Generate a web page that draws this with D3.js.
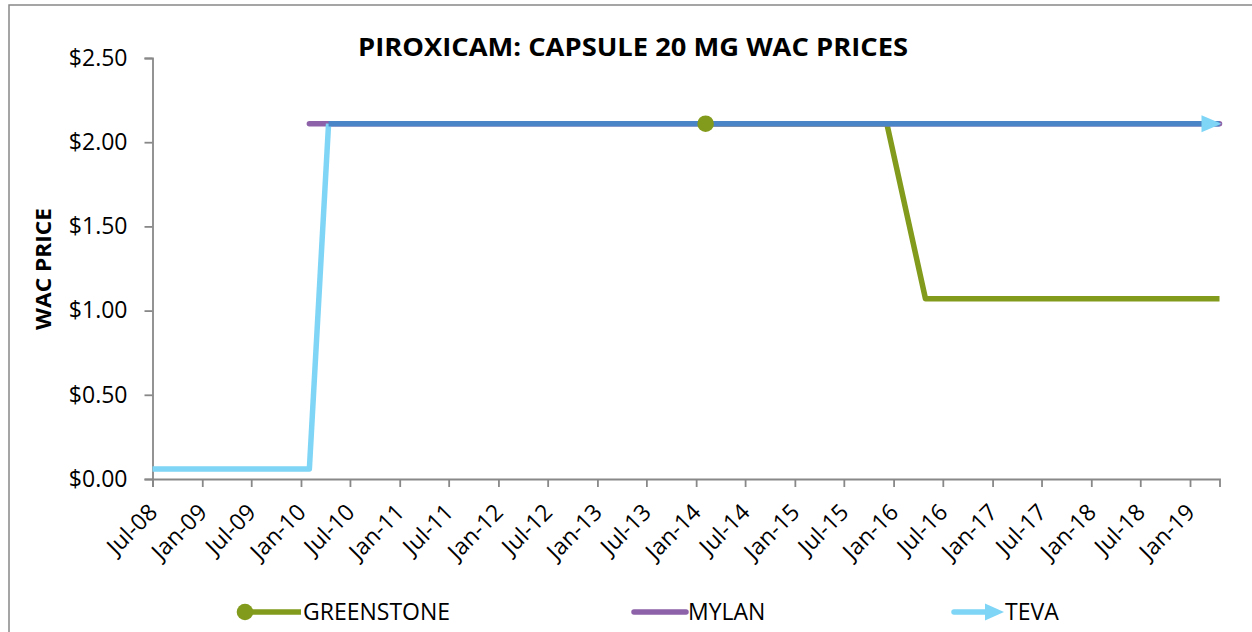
<!DOCTYPE html>
<html>
<head>
<meta charset="utf-8">
<script src="https://cdn.jsdelivr.net/npm/d3@7"></script>
<style>
  html, body { margin: 0; padding: 0; background: #fff; }
  svg { display: block; }
  text { font-family: "Open Sans", "Noto Sans", sans-serif; fill: #000; }
</style>
</head>
<body>
<svg id="chart" width="1252" height="632"></svg>
<script>
// ---------- DATA ----------
const title = "PIROXICAM: CAPSULE 20 MG WAC PRICES";
const yTitle = "WAC PRICE";
const seriesNames = ["GREENSTONE", "MYLAN", "TEVA"];

const greenstoneDates = ["2014-02-05", "2015-12-07", "2016-04-28", "2019-04-20"];
const greenstoneValues = [2.11, 2.11, 1.07, 1.07];

const mylanDates = ["2010-02-01", "2019-04-20"];
const mylanValues = [2.11, 2.11];

const tevaDates = ["2008-07-01", "2010-02-01", "2010-04-13", "2019-04-20"];
const tevaValues = [0.06, 0.06, 2.11, 2.11];

const yTicks = [0, 0.5, 1.0, 1.5, 2.0, 2.5];
const xTickDates = ["2008-07-01","2009-01-01","2009-07-01","2010-01-01","2010-07-01","2011-01-01",
  "2011-07-01","2012-01-01","2012-07-01","2013-01-01","2013-07-01","2014-01-01","2014-07-01",
  "2015-01-01","2015-07-01","2016-01-01","2016-07-01","2017-01-01","2017-07-01","2018-01-01",
  "2018-07-01","2019-01-01"];
const xDomain = ["2008-07-01", "2019-04-20"];
const yDomain = [0, 2.5];

// ---------- STYLE ----------
const C_GREEN = "#829B1C", C_PURPLE = "#8D62A8", C_LIGHT = "#7FD5F6", C_STEEL = "#4A86C7";
const AXIS = "#888888";
const LW = 5.5;

const parse = d3.utcParse("%Y-%m-%d");
const svg = d3.select("#chart");

// outer border
svg.append("rect").attr("x", 9).attr("y", 5).attr("width", 1300).attr("height", 700)
  .attr("fill", "none").attr("stroke", AXIS).attr("stroke-width", 1.5);

const x = d3.scaleUtc().domain(xDomain.map(parse)).range([152.5, 1219.5]);
const y = d3.scaleLinear().domain(yDomain).range([479, 58]);

// title
svg.append("text").attr("x", 633).attr("y", 56).attr("text-anchor", "middle")
  .style("font-size", "25px").style("font-weight", "bold")
  .attr("textLength", 550).attr("lengthAdjust", "spacingAndGlyphs").text(title);

// y title
svg.append("text").attr("transform", "translate(43,269) rotate(-90)")
  .attr("text-anchor", "middle").attr("dy", "0.35em")
  .style("font-size", "22px").style("font-weight", "bold")
  .attr("textLength", 122).attr("lengthAdjust", "spacingAndGlyphs").text(yTitle);

// y axis
const yAxis = svg.append("g").attr("transform", "translate(152.5,0)")
  .call(d3.axisLeft(y).tickValues(yTicks).tickSize(8).tickPadding(17)
    .tickFormat(d => "$" + d3.format(".2f")(d)));
yAxis.select(".domain").attr("stroke", AXIS).attr("stroke-width", 1.8);
yAxis.selectAll(".tick line").attr("stroke", AXIS).attr("stroke-width", 1.8);
yAxis.selectAll(".tick text").style("font-size", "23px").style("font-family", "'Open Sans'").attr("fill", "#000");

// x axis
const xAxis = svg.append("g").attr("transform", "translate(0,479)")
  .call(d3.axisBottom(x).tickValues(xTickDates.map(parse)).tickSize(8)
    .tickFormat(d3.utcFormat("%b-%y")));
xAxis.select(".domain").attr("stroke", AXIS).attr("stroke-width", 1.8);
xAxis.selectAll(".tick line").attr("stroke", AXIS).attr("stroke-width", 1.8);
xAxis.selectAll(".tick text")
  .style("font-size", "23px").style("font-family", "'Open Sans'").attr("fill", "#000")
  .attr("text-anchor", "end").attr("y", 0).attr("dy", "0.35em")
  .attr("transform", "translate(0,29) rotate(-45)");

const line = d3.line().x(d => x(d[0])).y(d => y(d[1]));
const pts = (dates, vals) => dates.map((d, i) => [parse(d), vals[i]]);

const gPts = pts(greenstoneDates, greenstoneValues);
const mPts = pts(mylanDates, mylanValues);
const tPts = pts(tevaDates, tevaValues);

// greenstone line
svg.append("path").attr("d", line(gPts)).attr("fill", "none").attr("stroke", C_GREEN)
  .attr("stroke-width", LW).attr("stroke-linejoin", "round");

// mylan line
svg.append("path").attr("d", line(mPts)).attr("fill", "none").attr("stroke", C_PURPLE)
  .attr("stroke-width", LW).attr("stroke-linecap", "round");

// teva line: segments (early segments light blue, later steel blue)
const tevaSegColor = i => i < 2 ? C_LIGHT : C_STEEL;
// light part as one path for nice joins
svg.append("path").attr("d", line(tPts.slice(0, 3))).attr("fill", "none").attr("stroke", C_LIGHT)
  .attr("stroke-width", LW).attr("stroke-linejoin", "round");
for (let i = 2; i < tPts.length - 1; i++) {
  svg.append("path").attr("d", line([tPts[i], tPts[i + 1]])).attr("fill", "none")
    .attr("stroke", tevaSegColor(i)).attr("stroke-width", LW);
}
// arrow head at Teva end
const tEnd = tPts[tPts.length - 1];
const ax = x(tEnd[0]) + 2, ay = y(tEnd[1]);
svg.append("path").attr("d", `M${ax},${ay} L${ax - 20},${ay - 8.5} L${ax - 20},${ay + 8.5} Z`)
  .attr("fill", C_LIGHT);

// greenstone marker at first point
svg.append("circle").attr("cx", x(gPts[0][0])).attr("cy", y(gPts[0][1])).attr("r", 8.3)
  .attr("fill", C_GREEN);

// legend
const lg = svg.append("g");
const ly = 612;
// greenstone
lg.append("line").attr("x1", 245).attr("x2", 301).attr("y1", ly).attr("y2", ly)
  .attr("stroke", C_GREEN).attr("stroke-width", LW);
lg.append("circle").attr("cx", 245).attr("cy", ly).attr("r", 8.3).attr("fill", C_GREEN);
// mylan
lg.append("line").attr("x1", 634).attr("x2", 686).attr("y1", ly).attr("y2", ly)
  .attr("stroke", C_PURPLE).attr("stroke-width", LW).attr("stroke-linecap", "round");
// teva
lg.append("line").attr("x1", 954).attr("x2", 990).attr("y1", ly).attr("y2", ly)
  .attr("stroke", C_LIGHT).attr("stroke-width", LW).attr("stroke-linecap", "round");
lg.append("path").attr("d", `M1004,${ly} L985,${ly - 8.5} L985,${ly + 8.5} Z`).attr("fill", C_LIGHT);

const legX = [303, 688, 1005];
seriesNames.forEach((n, i) => {
  lg.append("text").attr("x", legX[i]).attr("y", ly).attr("dy", "0.35em")
    .style("font-size", "23px").text(n);
});
</script>
</body>
</html>
